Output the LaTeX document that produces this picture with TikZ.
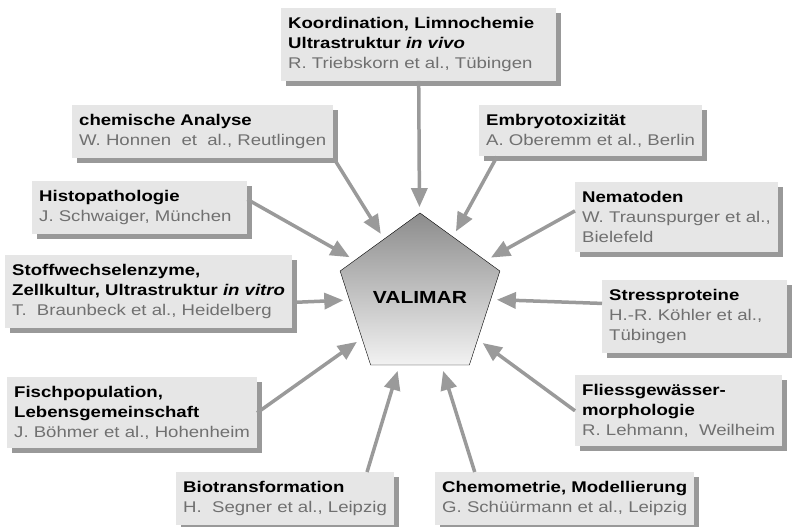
\documentclass[tikz,border=0pt]{standalone}
\usepackage{fontspec}
\setmainfont{Liberation Sans}[FakeStretch=1.2]
\usepackage{xcolor}
\definecolor{boxfill}{HTML}{E6E6E6}
\definecolor{shadowgray}{HTML}{999999}
\definecolor{namegray}{HTML}{707070}
\definecolor{arrowgray}{HTML}{9A9A9A}
\definecolor{pentatop}{HTML}{8C8C8C}
\definecolor{pentabottom}{HTML}{F2F2F2}
\usepackage{tikz}
\usetikzlibrary{arrows.meta,shapes.geometric,shadows}
\newcommand{\vmtitle}[1]{{\bfseries\color{black}#1}}
\tikzset{
    vm_box/.style={fill=boxfill, anchor=north west, align=left, inner xsep=7pt, inner ysep=9pt, text=namegray, font=\fontsize{15.5}{20}\selectfont, drop shadow={shadow xshift=5pt, shadow yshift=-5pt, fill=shadowgray, opacity=1}},
    vm_center/.style={regular polygon, regular polygon sides=5, minimum size=168pt, inner sep=0pt, draw=black, thin, top color=pentatop, bottom color=pentabottom, font=\bfseries\fontsize{17.5}{21}\selectfont},
    vm_arrow/.style={draw=arrowgray, line width=3.5pt, -{Triangle[length=19pt,width=16pt]}, shorten >=6pt}
}

\begin{document}
\begin{tikzpicture}[x=1pt, y=-1pt]
\useasboundingbox (0,0) rectangle (792,527);
\node[vm_center] (valimar) at (420,297) {VALIMAR};

\node[vm_box, text width=261pt] (koord) at (281,8) {\vmtitle{Koordination, Limnochemie}\\\vmtitle{Ultrastruktur \textit{in vivo}}\\R. Triebskorn et al., Tübingen};
\node[vm_box] (chem) at (72,105) {\vmtitle{chemische Analyse}\\W. Honnen~ et~ al., Reutlingen};
\node[vm_box] (embryo) at (479,105) {\vmtitle{Embryotoxizität}\\A. Oberemm et al., Berlin};
\node[vm_box, text width=201pt] (histo) at (32,181) {\vmtitle{Histopathologie}\\J. Schwaiger, München};
\node[vm_box] (nema) at (575,182) {\vmtitle{Nematoden}\\W. Traunspurger et al.,\\Bielefeld};
\node[vm_box] (stoff) at (5,255) {\vmtitle{Stoffwechselenzyme,}\\\vmtitle{Zellkultur, Ultrastruktur \textit{in vitro}}\\T.~ Braunbeck et al., Heidelberg};
\node[vm_box, text width=171pt] (stress) at (602,280) {\vmtitle{Stressproteine}\\H.-R. Köhler et al.,\\Tübingen};
\node[vm_box] (fisch) at (7,377) {\vmtitle{Fischpopulation,}\\\vmtitle{Lebensgemeinschaft}\\J. Böhmer et al., Hohenheim};
\node[vm_box] (fliess) at (575,375) {\vmtitle{Fliessgewässer-}\\\vmtitle{morphologie}\\R. Lehmann,~ Weilheim};
\node[vm_box] (biotrans) at (176,472) {\vmtitle{Biotransformation}\\H.~ Segner et al., Leipzig};
\node[vm_box] (chemo) at (435,472) {\vmtitle{Chemometrie, Modellierung}\\G. Schüürmann et al., Leipzig};

\draw[vm_arrow] (koord.south) -- (valimar);
\draw[vm_arrow] (chem.south east) -- (valimar);
\draw[vm_arrow] ([xshift=18pt]embryo.south west) -- (valimar);
\draw[vm_arrow] ([yshift=8pt]histo.east) -- (valimar);
\draw[vm_arrow] ([yshift=6pt]nema.west) -- (valimar);
\draw[vm_arrow] ([yshift=-11pt]stoff.east) -- (valimar);
\draw[vm_arrow] ([yshift=13pt]stress.west) -- (valimar);
\draw[vm_arrow] (fisch.east) -- (valimar);
\draw[vm_arrow] (fliess.west) -- (valimar);
\draw[vm_arrow] ([xshift=82pt]biotrans.north) -- (valimar);
\draw[vm_arrow] ([xshift=-90pt]chemo.north) -- (valimar);
\end{tikzpicture}
\end{document}
